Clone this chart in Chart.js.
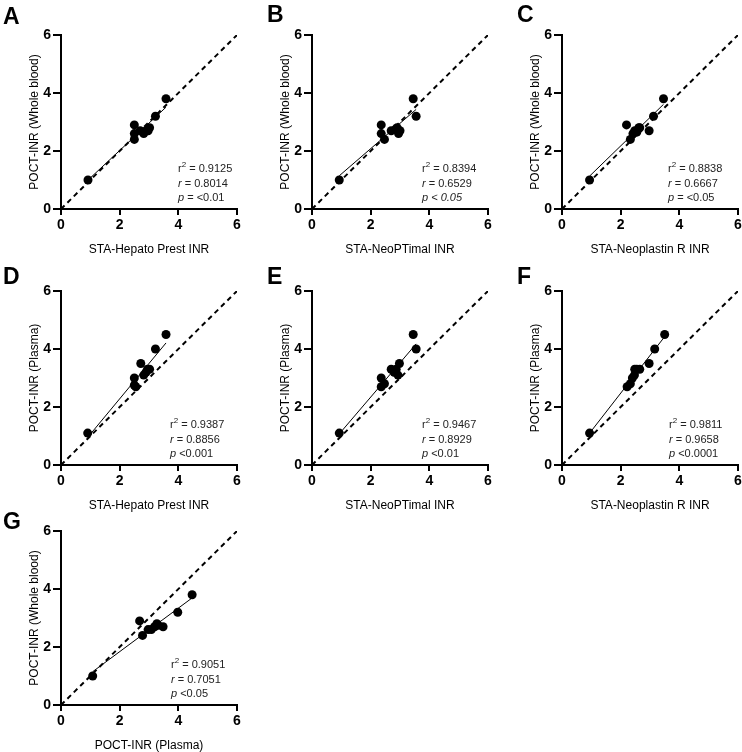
<!DOCTYPE html>
<html>
<head>
<meta charset="utf-8">
<script src="https://cdn.jsdelivr.net/npm/chart.js@4.4.1/dist/chart.umd.min.js"></script>
<style>
html, body { margin: 0; padding: 0; background: #fff; width: 742px; height: 752px; overflow: hidden; position: relative; }
canvas { position: absolute; }
</style>
</head>
<body>
<canvas id="pA" width="246" height="259"></canvas>
<canvas id="pB" width="246" height="259"></canvas>
<canvas id="pC" width="246" height="259"></canvas>
<canvas id="pD" width="246" height="259"></canvas>
<canvas id="pE" width="246" height="259"></canvas>
<canvas id="pF" width="246" height="259"></canvas>
<canvas id="pG" width="246" height="259"></canvas>
<script>
const FONT = "'Liberation Sans', Arial, Helvetica, sans-serif";

// ================= DATA =================

const letters = ["A", "B", "C", "D", "E", "F", "G"];
const xTitles = ["STA-Hepato Prest INR", "STA-NeoPTimal INR", "STA-Neoplastin R INR",
                 "STA-Hepato Prest INR", "STA-NeoPTimal INR", "STA-Neoplastin R INR",
                 "POCT-INR (Plasma)"];
const yTitles = ["POCT-INR (Whole blood)", "POCT-INR (Whole blood)", "POCT-INR (Whole blood)",
                 "POCT-INR (Plasma)", "POCT-INR (Plasma)", "POCT-INR (Plasma)",
                 "POCT-INR (Whole blood)"];
const axisTicks = [0, 2, 4, 6];

// A: Hepato Prest vs whole blood
const hepatoWB_x = [0.92, 2.5, 2.5, 2.5, 2.7, 2.82, 2.9, 2.97, 3.02, 3.22, 3.58];
const hepatoWB_y = [1.0, 2.9, 2.6, 2.4, 2.7, 2.6, 2.7, 2.7, 2.8, 3.2, 3.8];
// B: NeoPTimal vs whole blood
const neoptWB_x = [0.93, 2.36, 2.36, 2.47, 2.7, 2.85, 2.9, 2.95, 3.0, 3.45, 3.55];
const neoptWB_y = [1.0, 2.9, 2.6, 2.4, 2.7, 2.75, 2.8, 2.6, 2.7, 3.8, 3.2];
// C: Neoplastin R vs whole blood
const neoplWB_x = [0.94, 2.2, 2.33, 2.42, 2.48, 2.55, 2.62, 2.65, 2.97, 3.12, 3.46];
const neoplWB_y = [1.0, 2.9, 2.4, 2.6, 2.7, 2.65, 2.8, 2.8, 2.7, 3.2, 3.8];
// D: Hepato Prest vs plasma
const hepatoPl_x = [0.91, 2.5, 2.5, 2.55, 2.72, 2.82, 2.9, 2.95, 3.02, 3.22, 3.58];
const hepatoPl_y = [1.1, 3.0, 2.75, 2.7, 3.5, 3.1, 3.2, 3.3, 3.3, 4.0, 4.5];
// E: NeoPTimal vs plasma
const neoptPl_x = [0.93, 2.36, 2.36, 2.47, 2.7, 2.8, 2.87, 2.93, 2.98, 3.45, 3.55];
const neoptPl_y = [1.1, 3.0, 2.7, 2.8, 3.3, 3.2, 3.3, 3.1, 3.5, 4.5, 4.0];
// F: Neoplastin R vs plasma
const neoplPl_x = [0.94, 2.22, 2.33, 2.4, 2.47, 2.48, 2.55, 2.65, 2.97, 3.16, 3.5];
const neoplPl_y = [1.1, 2.7, 2.8, 3.0, 3.1, 3.3, 3.3, 3.3, 3.5, 4.0, 4.5];
// G: plasma vs whole blood
const plasmaWB_x = [1.08, 2.68, 2.78, 2.97, 3.08, 3.19, 3.27, 3.31, 3.48, 3.98, 4.47];
const plasmaWB_y = [1.0, 2.9, 2.4, 2.6, 2.6, 2.7, 2.8, 2.75, 2.7, 3.2, 3.8];

const r2Text = ["0.9125", "0.8394", "0.8838", "0.9387", "0.9467", "0.9811", "0.9051"];
const rText  = ["0.8014", "0.6529", "0.6667", "0.8856", "0.8929", "0.9658", "0.7051"];
const pText  = ["= <0.01", "< 0.05", "= <0.05", "<0.001", "<0.01", "<0.0001", "<0.05"];
const pAllItalic = [false, true, false, false, false, false, false];

const xSets = [hepatoWB_x, neoptWB_x, neoplWB_x, hepatoPl_x, neoptPl_x, neoplPl_x, plasmaWB_x];
const ySets = [hepatoWB_y, neoptWB_y, neoplWB_y, hepatoPl_y, neoptPl_y, neoplPl_y, plasmaWB_y];

// ================= LAYOUT =================

// canvas position on the page, letter position on the page, stats offset from plot corner
const canvasPos = [[-1, 0], [250, 0], [500, 0], [-1, 256], [250, 256], [500, 256], [-1, 496]];
const letterPos = [[3, 24], [267, 22], [517, 22], [3, 284], [267, 284], [517, 284], [3, 529]];
const statsDx   = [117, 110, 106, 109, 110, 107, 110];

function fitLine(xs, ys) {
    let n = xs.length, sx = 0, sy = 0, sxx = 0, sxy = 0;
    for (let i = 0; i < n; i++) {
        sx += xs[i]; sy += ys[i]; sxx += xs[i] * xs[i]; sxy += xs[i] * ys[i];
    }
    let slope = (n * sxy - sx * sy) / (n * sxx - sx * sx);
    let icpt = (sy - slope * sx) / n;
    let x0 = Math.min(...xs), x1 = Math.max(...xs);
    return [{x: x0, y: icpt + slope * x0}, {x: x1, y: icpt + slope * x1}];
}

const decorPlugin = {
    id: "decor",
    afterDraw(chart, args, opts) {
        const ctx = chart.ctx;
        const i = opts.index;
        const area = chart.chartArea;
        ctx.save();
        ctx.fillStyle = "#000";
        ctx.textBaseline = "alphabetic";
        ctx.textAlign = "left";

        // panel letter
        ctx.font = "bold 23px " + FONT;
        ctx.fillText(letters[i], letterPos[i][0] - canvasPos[i][0], letterPos[i][1] - canvasPos[i][1]);

        // stats block
        let x = area.left + statsDx[i];
        let y = area.top + 137;
        ctx.fillStyle = "#222";
        ctx.font = "11px " + FONT;
        ctx.fillText("r", x, y);
        let w = ctx.measureText("r").width;
        ctx.font = "8px " + FONT;
        ctx.fillText("2", x + w, y - 5);
        w += ctx.measureText("2").width;
        ctx.font = "11px " + FONT;
        ctx.fillText(" = " + r2Text[i], x + w, y);

        y += 14.5;
        ctx.font = "italic 11px " + FONT;
        ctx.fillText("r", x, y);
        w = ctx.measureText("r").width;
        ctx.font = "11px " + FONT;
        ctx.fillText(" = " + rText[i], x + w, y);

        y += 14.5;
        ctx.font = "italic 11px " + FONT;
        ctx.fillText("p", x, y);
        w = ctx.measureText("p").width;
        ctx.font = (pAllItalic[i] ? "italic " : "") + "11px " + FONT;
        ctx.fillText(" " + pText[i], x + w, y);
        ctx.restore();
    }
};

function axisOptions(title, isX) {
    return {
        type: "linear",
        min: 0,
        max: 6,
        afterBuildTicks: (s) => { s.ticks = axisTicks.map(v => ({value: v})); },
        afterFit: (s) => { if (isX) s.height = 50; else s.width = 62; },
        border: {display: true, color: "#000", width: 2},
        grid: {drawOnChartArea: false, drawTicks: true, tickLength: isX ? 6 : 8, color: "#000", lineWidth: 2},
        ticks: {
            color: "#000",
            padding: 2,
            font: {family: FONT, size: 14, weight: "bold"}
        },
        title: {
            display: true,
            text: title,
            color: "#000",
            font: {family: FONT, size: 12},
            padding: isX ? {top: 0, bottom: 2} : {top: 28, bottom: 0}
        }
    };
}

for (let i = 0; i < 7; i++) {
    const canvas = document.getElementById("p" + letters[i]);
    canvas.style.left = canvasPos[i][0] + "px";
    canvas.style.top = canvasPos[i][1] + "px";

    const points = xSets[i].map((x, k) => ({x: x, y: ySets[i][k]}));

    new Chart(canvas, {
        type: "scatter",
        data: {
            datasets: [
                {
                    data: points,
                    backgroundColor: "#000",
                    borderColor: "#000",
                    pointRadius: 4.5,
                    pointBorderWidth: 0
                },
                {
                    type: "line",
                    data: fitLine(xSets[i], ySets[i]),
                    borderColor: "#000",
                    borderWidth: 1,
                    pointRadius: 0,
                    fill: false
                },
                {
                    type: "line",
                    data: [{x: 0, y: 0}, {x: 6, y: 6}],
                    borderColor: "#000",
                    borderWidth: 2,
                    borderDash: [5, 4],
                    pointRadius: 0,
                    fill: false
                }
            ]
        },
        options: {
            responsive: false,
            animation: false,
            devicePixelRatio: 1,
            layout: {padding: {top: 35, right: 8, left: 0, bottom: 0}},
            plugins: {
                legend: {display: false},
                tooltip: {enabled: false},
                decor: {index: i}
            },
            scales: {
                x: axisOptions(xTitles[i], true),
                y: axisOptions(yTitles[i], false)
            }
        },
        plugins: [decorPlugin]
    });
}
</script>
</body>
</html>
